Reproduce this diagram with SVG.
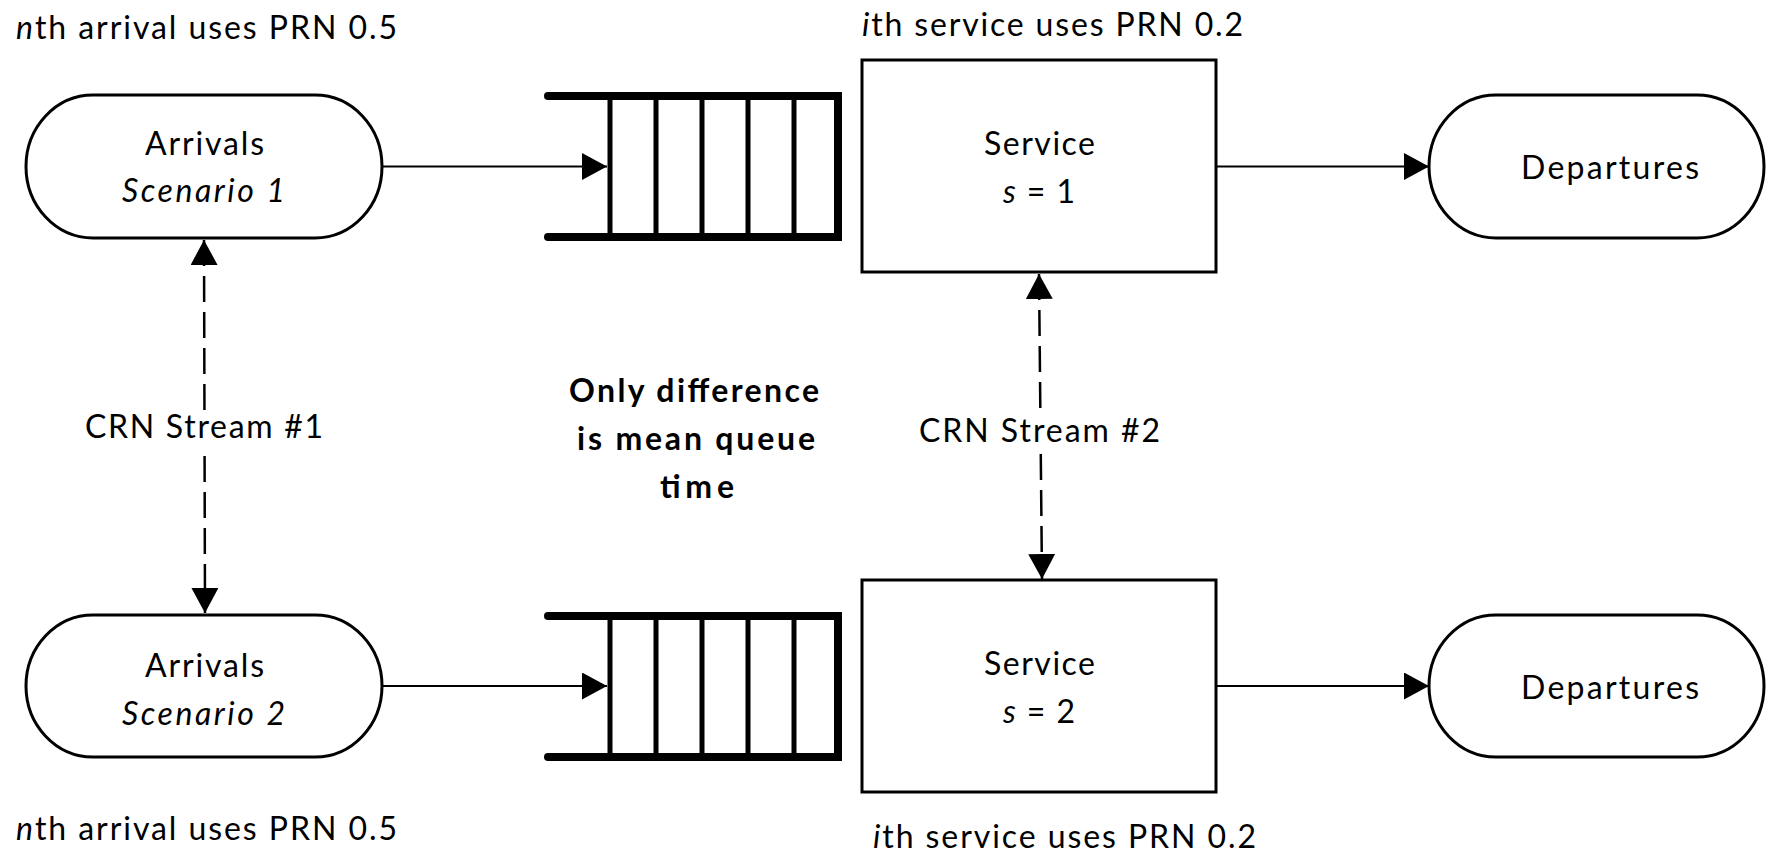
<svg xmlns="http://www.w3.org/2000/svg" width="1767" height="854" viewBox="0 0 1767 854">
  <defs>
    <style>
      .lbl { font-family: Lato, "Open Sans", "Liberation Sans", sans-serif; font-size: 32px; fill: #000; }
      .bold { font-weight: bold; }
      .it { font-style: italic; }
      .term { fill: #fff; stroke: #000; stroke-width: 3; }
      .box { fill: #fff; stroke: #000; stroke-width: 3; }
      .qbar { fill: none; stroke: #000; stroke-width: 8; stroke-linecap: round; stroke-linejoin: miter; }
      .qslot { stroke: #000; stroke-width: 5; }
      .flow { stroke: #000; stroke-width: 2; fill: none; marker-end: url(#head); }
      .crn { stroke: #000; stroke-width: 2.5; fill: none; stroke-dasharray: 26 10; marker-start: url(#head); marker-end: url(#head); }
      .mask { fill: #fff; }
    </style>
    <marker id="head" viewBox="0 0 25 27" refX="25" refY="13.5" markerWidth="25" markerHeight="27" markerUnits="userSpaceOnUse" orient="auto-start-reverse">
      <path d="M0,0 L25,13.5 L0,27 Z" fill="#000"/>
    </marker>
  </defs>

  <rect width="1767" height="854" fill="#fff"/>

  <!-- connectors -->
  <g id="connectors">
    <line class="flow" x1="383" y1="166.5" x2="607" y2="166.5"/>
    <line class="flow" x1="1217" y1="166.5" x2="1429" y2="166.5"/>
    <line class="flow" x1="383" y1="686" x2="607" y2="686"/>
    <line class="flow" x1="1217" y1="686" x2="1429" y2="686"/>
    <line class="crn" x1="204" y1="240" x2="205" y2="613"/>
    <line class="crn" x1="1039" y1="274" x2="1042" y2="579"/>
    <rect class="mask" x="84" y="414" width="240" height="33"/>
    <rect class="mask" x="918" y="417" width="244" height="33"/>
    <text class="lbl" x="85" y="438" textLength="238">CRN Stream #1</text>
    <text class="lbl" x="919" y="442" textLength="241">CRN Stream #2</text>
  </g>

  <!-- scenario 1 -->
  <g id="arrivals1">
    <rect class="term" x="26" y="95" width="356" height="143" rx="67" ry="71.5"/>
    <text class="lbl" x="145" y="155" textLength="119">Arrivals</text>
    <text class="lbl it" x="122" y="202" textLength="163">Scenario 1</text>
  </g>
  <g id="queue1">
    <path class="qbar" d="M548,96 H838 V237 H548"/>
    <line class="qslot" x1="610" y1="96" x2="610" y2="237"/>
    <line class="qslot" x1="656" y1="96" x2="656" y2="237"/>
    <line class="qslot" x1="702" y1="96" x2="702" y2="237"/>
    <line class="qslot" x1="748" y1="96" x2="748" y2="237"/>
    <line class="qslot" x1="794" y1="96" x2="794" y2="237"/>
  </g>
  <g id="service1">
    <rect class="box" x="862" y="60" width="354" height="212"/>
    <text class="lbl" x="984" y="155" textLength="111">Service</text>
    <text class="lbl" x="1003" y="203" textLength="72"><tspan class="it">s</tspan> = 1</text>
  </g>
  <g id="departures1">
    <rect class="term" x="1429" y="95" width="335" height="143" rx="67" ry="71.5"/>
    <text class="lbl" x="1521" y="179" textLength="178">Departures</text>
  </g>

  <!-- scenario 2 -->
  <g id="arrivals2">
    <rect class="term" x="26" y="615" width="356" height="142" rx="67" ry="71"/>
    <text class="lbl" x="145" y="677" textLength="119">Arrivals</text>
    <text class="lbl it" x="122" y="725" textLength="163">Scenario 2</text>
  </g>
  <g id="queue2">
    <path class="qbar" d="M548,616 H838 V757 H548"/>
    <line class="qslot" x1="610" y1="616" x2="610" y2="757"/>
    <line class="qslot" x1="656" y1="616" x2="656" y2="757"/>
    <line class="qslot" x1="702" y1="616" x2="702" y2="757"/>
    <line class="qslot" x1="748" y1="616" x2="748" y2="757"/>
    <line class="qslot" x1="794" y1="616" x2="794" y2="757"/>
  </g>
  <g id="service2">
    <rect class="box" x="862" y="580" width="354" height="212"/>
    <text class="lbl" x="984" y="675" textLength="111">Service</text>
    <text class="lbl" x="1003" y="723" textLength="72"><tspan class="it">s</tspan> = 2</text>
  </g>
  <g id="departures2">
    <rect class="term" x="1429" y="615" width="335" height="142" rx="67" ry="71"/>
    <text class="lbl" x="1521" y="699" textLength="178">Departures</text>
  </g>

  <!-- annotations -->
  <g id="prn-arrival-1">
    <text class="lbl" x="16" y="39" textLength="381"><tspan class="it">n</tspan>th arrival uses PRN 0.5</text>
  </g>
  <g id="prn-service-1">
    <text class="lbl" x="862" y="36" textLength="381"><tspan class="it">i</tspan>th service uses PRN 0.2</text>
  </g>
  <g id="prn-arrival-2">
    <text class="lbl" x="16" y="840" textLength="381"><tspan class="it">n</tspan>th arrival uses PRN 0.5</text>
  </g>
  <g id="prn-service-2">
    <text class="lbl" x="873" y="848" textLength="383"><tspan class="it">i</tspan>th service uses PRN 0.2</text>
  </g>
  <g id="note">
    <text class="lbl bold" x="569" y="402" textLength="250">Only difference</text>
    <text class="lbl bold" x="577" y="450" textLength="238">is mean queue</text>
    <text class="lbl bold" x="660" y="498" textLength="74">time</text>
  </g>
</svg>
